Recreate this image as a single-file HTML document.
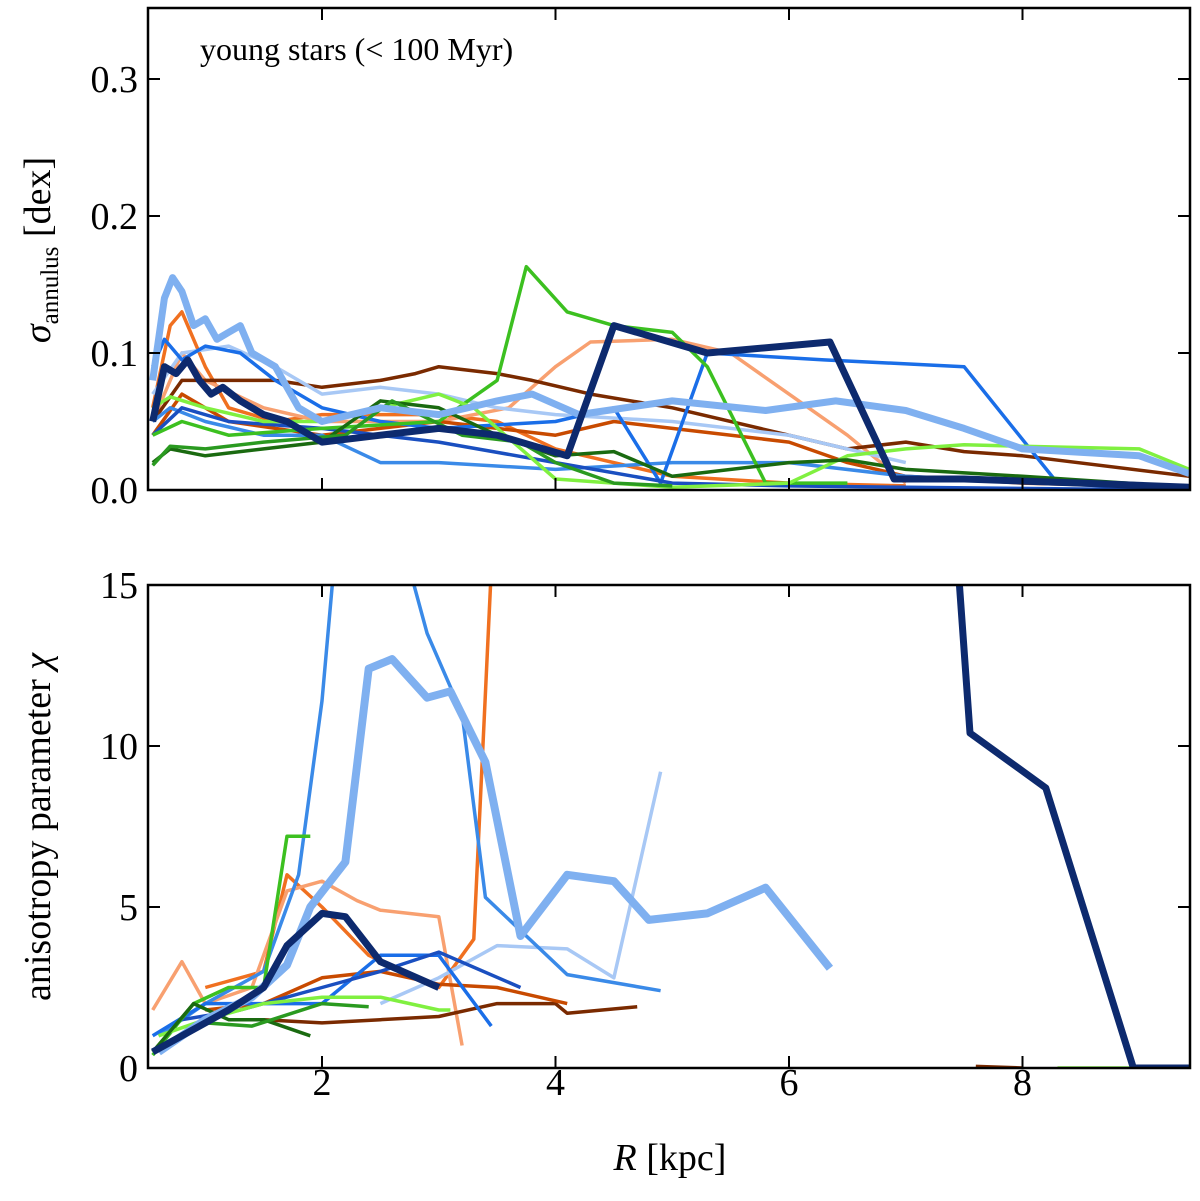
<!DOCTYPE html>
<html><head><meta charset="utf-8"><style>
body{margin:0;background:#fff;position:relative}
svg text{font-family:"Liberation Serif",serif;fill:#000}
</style></head><body>
<svg id="chart" width="1200" height="1196" viewBox="0 0 1200 1196" xmlns="http://www.w3.org/2000/svg">
<defs>
<clipPath id="clipTop"><rect x="148" y="8" width="1042" height="482"/></clipPath>
<clipPath id="clipBot"><rect x="148" y="585" width="1042" height="483"/></clipPath>
</defs>
<g id="top"></g>
<g id="bot"></g>
</svg>
<script>
const xTicks=[2,4,6,8];
const topTicks=[0.0,0.1,0.2,0.3];
const topTickLabels=["0.0","0.1","0.2","0.3"];
const botTicks=[0,5,10,15];
const botTickLabels=["0","5","10","15"];
const topSeries=[
{c:"#f07020",w:3.5,xs:[.55,.7,.8,1,1.2,1.6,2,3,3.5,4,5,6,7],ys:[.06,.12,.13,.09,.06,.05,.055,.055,.05,.03,.01,.005,.003]},
{c:"#f8a070",w:3.5,xs:[.55,.8,1,1.5,2,3,3.6,4,4.3,5,5.5,6,6.5,7],ys:[.05,.1,.08,.06,.05,.05,.06,.09,.108,.11,.1,.07,.04,.005]},
{c:"#7a2a00",w:3.5,xs:[.55,.8,1.2,1.6,2,2.5,2.8,3,3.5,3.8,4.3,5,6,6.5,7,7.5,8,9.43],ys:[.05,.08,.08,.08,.075,.08,.085,.09,.085,.08,.07,.06,.04,.03,.035,.028,.025,.01]},
{c:"#c84a00",w:3.5,xs:[.55,.8,1.2,2,3,4,4.5,5,6,6.5,7,8,9.43],ys:[.04,.07,.05,.04,.05,.04,.05,.045,.035,.02,.01,.005,.002]},
{c:"#a8c8f5",w:3.5,xs:[.55,.8,1.2,1.6,2,2.5,3,3.5,4,5,6,7],ys:[.07,.1,.105,.09,.07,.075,.07,.06,.055,.05,.04,.02]},
{c:"#3a8ae8",w:3.5,xs:[.55,.7,1,1.5,2,2.5,3,4,5,6,7,9.43],ys:[.05,.06,.05,.04,.04,.02,.02,.015,.02,.02,.01,0]},
{c:"#1a6ee8",w:3.5,xs:[.55,.65,.8,1,1.3,1.6,2,2.5,3,4,4.5,4.9,5.3,6.3,7.5,8.3,9.43],ys:[.09,.11,.095,.105,.1,.08,.06,.05,.045,.05,.06,.005,.1,.095,.09,.005,.002]},
{c:"#1a4fc0",w:3.5,xs:[.55,.8,1.2,2,3,4,5,6,7,9.43],ys:[.04,.06,.05,.045,.035,.02,.005,.003,.002,0]},
{c:"#3cc020",w:3.5,xs:[.55,.8,1.2,2,3,3.5,3.75,4.1,4.5,5,5.3,5.8,6.5],ys:[.04,.05,.04,.045,.05,.08,.163,.13,.12,.115,.09,.005,.005]},
{c:"#80f040",w:3.5,xs:[.55,.7,1,1.5,2,2.5,3,3.3,4,5,6,6.5,7,7.5,8,9,9.43],ys:[.06,.068,.06,.05,.05,.06,.07,.06,.008,.002,.005,.025,.03,.033,.032,.03,.015]},
{c:"#1a6a10",w:3.5,xs:[.55,.7,1,1.5,2,2.5,3,3.5,4,4.5,5,6,6.5,7,8,9.43],ys:[.02,.03,.025,.03,.035,.065,.06,.04,.025,.028,.01,.02,.022,.015,.01,.002]},
{c:"#2a9a20",w:3.5,xs:[.55,.7,1,1.5,2.2,2.6,3.2,3.7,4,4.5,5],ys:[.018,.032,.03,.035,.04,.065,.04,.035,.02,.005,.003]},
{c:"#7fb0f0",w:7,xs:[.55,.65,.72,.8,.9,1,1.1,1.2,1.3,1.4,1.6,1.8,2,2.5,3,3.5,3.8,4.2,5,5.8,6.4,7,7.5,8,9,9.43],ys:[.08,.14,.155,.145,.12,.125,.11,.115,.12,.1,.09,.06,.05,.06,.055,.065,.07,.055,.065,.058,.065,.058,.045,.03,.025,.012]},
{c:"#0d2a6e",w:7,xs:[.55,.65,.75,.85,.95,1.05,1.15,1.3,1.5,1.7,2,2.5,3,3.5,4.1,4.5,5.3,6.35,6.9,7.5,8.5,9.43],ys:[.05,.09,.085,.095,.08,.07,.075,.065,.055,.05,.035,.04,.045,.04,.025,.12,.1,.108,.008,.008,.005,.002]}
];
const botSeries=[
{c:"#f07020",w:3.5,xs:[1,1.5,1.7,2,2.4,3,3.3,3.45],ys:[2.5,3,6,5,3.5,2.5,4,15.5]},
{c:"#f8a070",w:3.5,xs:[.55,.8,1,1.4,1.7,2,2.3,2.5,3,3.2],ys:[1.8,3.3,2,2.5,5.5,5.8,5.2,4.9,4.7,.7]},
{c:"#7a2a00",w:3.5,xs:[1.5,2,2.5,3,3.5,4,4.1,4.7],ys:[1.5,1.4,1.5,1.6,2,2,1.7,1.9]},
{c:"#7a2a00",w:3.5,xs:[7.6,8],ys:[.05,0]},
{c:"#c84a00",w:3.5,xs:[1,1.5,2,2.5,3,3.5,4.1],ys:[1.8,2,2.8,3,2.6,2.5,2]},
{c:"#a8c8f5",w:3.5,xs:[2.5,3,3.5,4.1,4.5,4.9],ys:[2,2.8,3.8,3.7,2.8,9.2]},
{c:"#3a8ae8",w:3.5,xs:[.6,1,1.5,1.8,2,2.1],ys:[1,2,3,6,11.4,15.5]},
{c:"#3a8ae8",w:3.5,xs:[2.75,2.9,3.2,3.4,4.1,4.9],ys:[15.5,13.5,11,5.3,2.9,2.4]},
{c:"#1a6ee8",w:3.5,xs:[.55,1,1.5,2,2.5,3,3.45],ys:[1,2,2,2,3.5,3.5,1.3]},
{c:"#1a4fc0",w:3.5,xs:[.8,1.3,2,2.5,3,3.7],ys:[1.5,1.8,2.5,3,3.6,2.5]},
{c:"#3cc020",w:3.5,xs:[.55,.9,1.2,1.5,1.7,1.9],ys:[.4,2,2.5,2.5,7.2,7.2]},
{c:"#80f040",w:3.5,xs:[.6,1,1.5,2,2.5,3,3.1],ys:[1,1.5,2,2.2,2.2,1.8,1.8]},
{c:"#1a6a10",w:3.5,xs:[.55,.9,1.2,1.5,1.9],ys:[.5,2,1.5,1.5,1]},
{c:"#2a9a20",w:3.5,xs:[.6,1,1.4,2,2.4],ys:[.6,1.4,1.3,2,1.9]},
{c:"#80f040",w:3.5,xs:[8.3,9.3],ys:[0,0]},
{c:"#7fb0f0",w:8,xs:[.6,1,1.4,1.7,1.9,2.2,2.4,2.6,2.9,3.1,3.4,3.7,4.1,4.5,4.8,5.3,5.8,6.35],ys:[.5,1.5,2.2,3.2,5,6.4,12.4,12.7,11.5,11.7,9.5,4.1,6,5.8,4.6,4.8,5.6,3.1]},
{c:"#0d2a6e",w:7,xs:[.55,.8,1.2,1.5,1.7,2,2.2,2.5,3],ys:[.5,1,1.8,2.5,3.8,4.8,4.7,3.3,2.5]},
{c:"#0d2a6e",w:7,xs:[7.45,7.55,8.2,8.95,9.43],ys:[15.5,10.4,8.7,0,0]}
];
const NS="http://www.w3.org/2000/svg";
const X0=148,X1=1190;
const xs=r=>88.5+116.75*r;
const yTop=v=>490-1370*v;
const yBot=v=>1068-32.2*v;
function mk(tag,attrs,parent){const e=document.createElementNS(NS,tag);for(const k in attrs)e.setAttribute(k,attrs[k]);parent.appendChild(e);return e;}
function panel(g,top,bot,clip,series,yf,ticks,labels,showX){
  const lg=mk('g',{'clip-path':'url(#'+clip+')'},g);
  series.forEach((s,i)=>{
    const d=s.xs.map((r,j)=>(j?'L':'M')+xs(r).toFixed(1)+','+yf(s.ys[j]).toFixed(1)).join('');
    const p=mk('path',{d:d,fill:'none',stroke:s.c,'stroke-width':s.w,'stroke-linejoin':'round'},lg);
    
    
  });
  const f=mk('rect',{x:X0,y:top,width:X1-X0,height:bot-top,fill:'none',stroke:'#000','stroke-width':2.5},g);
  
  
  xTicks.forEach(t=>{const x=xs(t);
    mk('line',{x1:x,x2:x,y1:bot,y2:bot-12,stroke:'#000','stroke-width':2},g);
    mk('line',{x1:x,x2:x,y1:top,y2:top+12,stroke:'#000','stroke-width':2},g);
    if(showX){const tx=mk('text',{x:x,y:bot+27,'font-size':38,'text-anchor':'middle'},g);tx.textContent=t;
      
      }
  });
  ticks.forEach((t,i)=>{const y=yf(t);
    mk('line',{x1:X0,x2:X0+12,y1:y,y2:y,stroke:'#000','stroke-width':2},g);
    mk('line',{x1:X1,x2:X1-12,y1:y,y2:y,stroke:'#000','stroke-width':2},g);
    const tx=mk('text',{x:X0-10,y:y+13,'font-size':38,'text-anchor':'end'},g);tx.textContent=labels[i];
    
    
  });
}
panel(document.getElementById('top'),8,490,'clipTop',topSeries,yTop,topTicks,topTickLabels,false);
panel(document.getElementById('bot'),585,1068,'clipBot',botSeries,yBot,botTicks,botTickLabels,true);
</script>
<svg style="position:absolute;left:0;top:0" width="1200" height="1196" xmlns="http://www.w3.org/2000/svg">
<text x="200" y="60" font-size="32">young stars (&lt; 100 Myr)</text>
<text transform="translate(50,250) rotate(-90)" text-anchor="middle" font-size="38"><tspan font-style="italic">σ</tspan><tspan font-size="25" dy="8">annulus</tspan><tspan dy="-8"> [dex]</tspan></text>
<text transform="translate(50,827) rotate(-90)" text-anchor="middle" font-size="38">anisotropy parameter <tspan font-style="italic">χ</tspan></text>
<text x="670" y="1170" text-anchor="middle" font-size="38"><tspan font-style="italic">R</tspan> [kpc]</text>
</svg>
</body></html>
